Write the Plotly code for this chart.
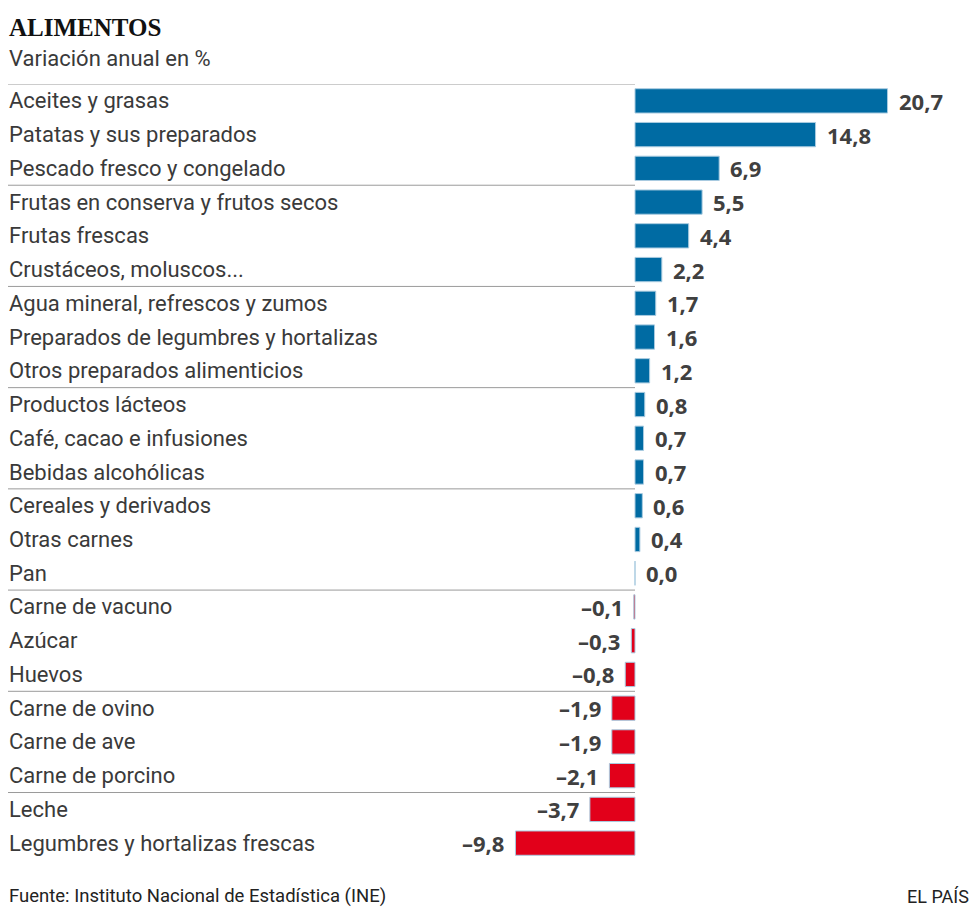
import plotly.graph_objects as go

# Datos: variación anual en %
categorias = [
    "Aceites y grasas", "Patatas y sus preparados", "Pescado fresco y congelado",
    "Frutas en conserva y frutos secos", "Frutas frescas", "Crustáceos, moluscos...",
    "Agua mineral, refrescos y zumos", "Preparados de legumbres y hortalizas",
    "Otros preparados alimenticios", "Productos lácteos", "Café, cacao e infusiones",
    "Bebidas alcohólicas", "Cereales y derivados", "Otras carnes", "Pan",
    "Carne de vacuno", "Azúcar", "Huevos", "Carne de ovino", "Carne de ave",
    "Carne de porcino", "Leche", "Legumbres y hortalizas frescas",
]
valores = [20.7, 14.8, 6.9, 5.5, 4.4, 2.2, 1.7, 1.6, 1.2, 0.8, 0.7, 0.7,
           0.6, 0.4, 0.0, -0.1, -0.3, -0.8, -1.9, -1.9, -2.1, -3.7, -9.8]

AZUL = "#006ba3"
ROJO = "#e2001a"
OFF = 8                      # margen del body de la página
W, H = 980 - OFF, 919 - OFF
X0 = 635 - OFF               # píxel del cero
ESCALA = 12.2                # píxeles por punto

def px(v):   # coordenada x de papel a partir de píxel de la referencia
    return (v - OFF) / W

def py(v):   # coordenada y de papel a partir de píxel de la referencia
    return 1 - (v - OFF) / H

filas = list(range(len(categorias)))
colores = [AZUL if v >= 0 else ROJO for v in valores]

fig = go.Figure()
fig.add_trace(go.Bar(
    x=valores, y=filas, orientation="h",
    marker=dict(color=colores, line=dict(color="#a9cbe0", width=1)),
    width=0.72, hoverinfo="skip",
))

def fmt(v):
    s = f"{abs(v):.1f}".replace(".", ",")
    return ("–" + s) if v < 0 else s

anots = []
for i, (c, v) in enumerate(zip(categorias, valores)):
    anots.append(dict(x=px(7), xref="paper", y=i, yref="y", text=c,
                      xanchor="left", yanchor="middle", showarrow=False,
                      font=dict(family="Roboto", size=22, color="#3a3a3a")))
    anots.append(dict(x=v, xref="x", y=i, yref="y", text=fmt(v),
                      xanchor="left" if v >= 0 else "right",
                      xshift=9 if v >= 0 else -9,
                      yanchor="middle", showarrow=False,
                      font=dict(family="Open Sans", size=22, color="#404040", weight="bold")))

anots += [
    dict(x=px(7), y=py(28), xref="paper", yref="paper", text="<b>ALIMENTOS</b>",
         xanchor="left", yanchor="middle", showarrow=False,
         font=dict(family="Liberation Serif", size=25, color="#111")),
    dict(x=px(7), y=py(58), xref="paper", yref="paper", text="Variación anual en %",
         xanchor="left", yanchor="middle", showarrow=False,
         font=dict(family="Roboto", size=22, color="#3a3a3a")),
    dict(x=px(7), y=py(896), xref="paper", yref="paper",
         text="Fuente: Instituto Nacional de Estadística (INE)",
         xanchor="left", yanchor="middle", showarrow=False,
         font=dict(family="Roboto", size=18.5, color="#222")),
    dict(x=px(971), y=py(896), xref="paper", yref="paper", text="EL PAÍS",
         xanchor="right", yanchor="middle", showarrow=False,
         font=dict(family="Roboto", size=18, color="#222")),
]

# líneas separadoras cada tres filas
formas = []
for k in range(0, len(categorias), 3):
    formas.append(dict(type="line", xref="paper", yref="y",
                       x0=0, x1=X0 / W, y0=k - 0.5, y1=k - 0.5,
                       line=dict(color="#9a9a9a", width=1)))

fig.update_layout(
    width=W, height=H,
    margin=dict(l=0, r=0, t=0, b=0),
    paper_bgcolor="white", plot_bgcolor="white",
    showlegend=False,
    xaxis=dict(range=[-X0 / ESCALA, (W - X0) / ESCALA], visible=False, fixedrange=True),
    yaxis=dict(range=[len(categorias) - 0.5, -0.5], visible=False, fixedrange=True,
               domain=[py(860), py(84)]),
    annotations=anots, shapes=formas,
)

fig.write_html("out.html")
